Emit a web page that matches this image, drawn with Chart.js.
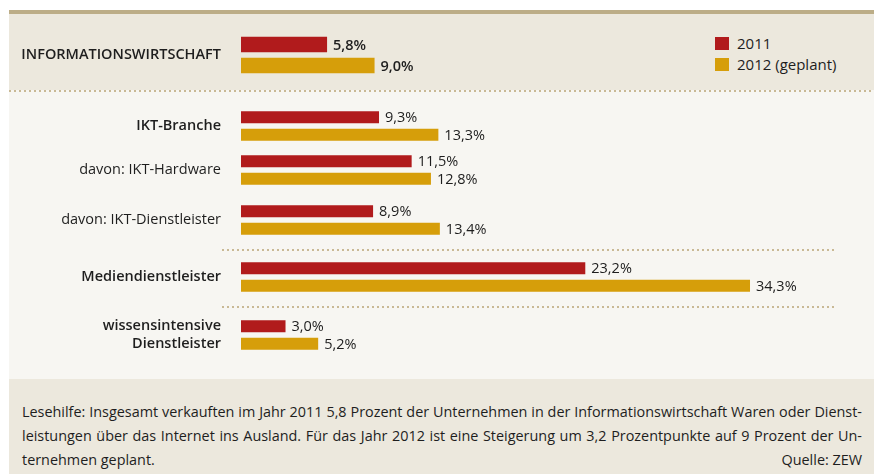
<!DOCTYPE html>
<html>
<head>
<meta charset="utf-8">
<script src="https://cdn.jsdelivr.net/npm/chart.js@4.4.1/dist/chart.umd.min.js"></script>
<style>
    body { margin: 0; width: 874px; height: 474px; position: relative; overflow: hidden; background: #fff; font-family: "Open Sans", sans-serif; color: #1e1e1e; }
    .abs { position: absolute; }
    .rule { left: 9px; top: 10px; width: 865px; height: 4px; background: #bcad87; }
    .top-panel { left: 9px; top: 14px; width: 865px; height: 76px; background: #ece8dd; }
    .mid-panel { left: 9px; top: 90px; width: 865px; height: 289px; background: #f7f6f2; }
    .bottom-panel { left: 9px; top: 379px; width: 865px; height: 95px; background: #ece8dd; }
    .dots { height: 2px; background: repeating-linear-gradient(to right, #c9b995 0 2px, transparent 2px 5px); }
    .legend-item { left: 715px; font-size: 15px; line-height: 15px; display: flex; align-items: center; white-space: nowrap; }
    .legend-item span { display: inline-block; width: 14px; height: 13px; margin-right: 8px; }
    .note { left: 22px; width: 840px; font-size: 14.4px; white-space: nowrap; }
    .note.just { text-align: justify; text-align-last: justify; }
    .note.last { display: flex; justify-content: space-between; }
    canvas { position: absolute; left: 0; }
</style>
</head>
<body>
<div class="abs rule"></div>
<div class="abs top-panel"></div>
<div class="abs mid-panel"></div>
<div class="abs bottom-panel"></div>
<div class="abs dots" style="left:9px;top:90px;width:865px"></div>
<div class="abs dots" style="left:222px;top:249px;width:615px"></div>
<div class="abs dots" style="left:222px;top:306px;width:615px"></div>
<div id="legend"></div>
<div class="abs note just" style="top:402px">Lesehilfe: Insgesamt verkauften im Jahr 2011 5,8 Prozent der Unternehmen in der Informationswirtschaft Waren oder Dienst-</div>
<div class="abs note just" style="top:426px">leistungen über das Internet ins Ausland. Für das Jahr 2012 ist eine Steigerung um 3,2 Prozentpunkte auf 9 Prozent der Un-</div>
<div class="abs note last" style="top:450px"><span>ternehmen geplant.</span><span>Quelle: ZEW</span></div>

<script>
// Data
const categories = [
    "INFORMATIONSWIRTSCHAFT",
    "IKT-Branche",
    "davon: IKT-Hardware",
    "davon: IKT-Dienstleister",
    "Mediendienstleister",
    ["wissensintensive", "Dienstleister"]
];
const seriesLabels = ["2011", "2012 (geplant)"];
const values2011 = [5.8, 9.3, 11.5, 8.9, 23.2, 3.0];
const values2012 = [9.0, 13.3, 12.8, 13.4, 34.3, 5.2];

// Styles / layout
const colors = ["#b11b1c", "#d69e0a"];
const rowCenters = [55, 125.5, 169.5, 219.5, 276.5, 334.5];
const boldRows = [0, 1, 4, 5];
const CANVAS_H = 80;
const X_MAX = 40;

// Legend (html)
const legendEl = document.getElementById("legend");
seriesLabels.forEach((label, i) => {
    const item = document.createElement("div");
    item.className = "abs legend-item";
    item.style.top = (36 + i * 21) + "px";
    item.innerHTML = `<span style="background:${colors[i]}"></span>`;
    item.appendChild(document.createTextNode(label));
    legendEl.appendChild(item);
});

// value labels right of each bar
const valueLabels = {
    id: "valueLabels",
    afterDatasetsDraw(chart, args, opts) {
        const ctx = chart.ctx;
        ctx.save();
        ctx.font = (opts.bold ? "600 " : "400 ") + "14.5px 'Open Sans'";
        ctx.fillStyle = "#1e1e1e";
        ctx.textAlign = "left";
        ctx.textBaseline = "middle";
        chart.data.datasets.forEach((ds, di) => {
            chart.getDatasetMeta(di).data.forEach((bar, i) => {
                const txt = ds.data[i].toFixed(1).replace(".", ",") + "%";
                ctx.fillText(txt, bar.x + 6, bar.y + 1);
            });
        });
        ctx.restore();
    }
};

categories.forEach((cat, i) => {
    const bold = boldRows.includes(i);
    const thick = i === 0 ? 15.5 : 12;
    const step = thick + 5.3;
    const pad = (CANVAS_H - 2 * step) / 2;

    const canvas = document.createElement("canvas");
    canvas.width = 874;
    canvas.height = CANVAS_H;
    canvas.style.top = (rowCenters[i] - CANVAS_H / 2) + "px";
    document.body.appendChild(canvas);

    new Chart(canvas.getContext("2d"), {
        type: "bar",
        data: {
            labels: [cat],
            datasets: [
                { label: seriesLabels[0], data: [values2011[i]], backgroundColor: colors[0] },
                { label: seriesLabels[1], data: [values2012[i]], backgroundColor: colors[1] }
            ]
        },
        options: {
            indexAxis: "y",
            responsive: false,
            animation: false,
            categoryPercentage: 1,
            barPercentage: thick / step,
            layout: { padding: { top: pad, bottom: pad, left: 0, right: 39.4 } },
            plugins: {
                legend: { display: false },
                tooltip: { enabled: false },
                valueLabels: { bold: i === 0 }
            },
            scales: {
                x: { display: false, min: 0, max: X_MAX },
                y: {
                    // tick length used as the gap between label and bars
                    grid: { display: false, drawTicks: true, tickLength: 20 },
                    border: { display: false },
                    afterFit: s => { s.width = 241; },
                    ticks: {
                        padding: 0,
                        color: "#1e1e1e",
                        font: { family: "'Open Sans'", size: 14.5, weight: bold ? "600" : "400", lineHeight: 1.25 }
                    }
                }
            }
        },
        plugins: [valueLabels]
    });
});
</script>
</body>
</html>
